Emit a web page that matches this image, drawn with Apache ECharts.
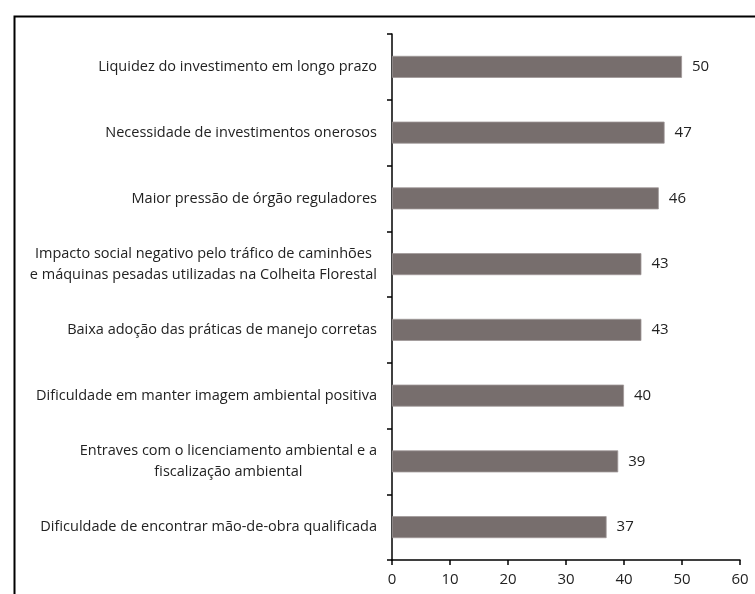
<!DOCTYPE html>
<html><head><meta charset="utf-8">
<script src="https://cdn.jsdelivr.net/npm/echarts@6/dist/echarts.min.js"></script>
<style>html,body{margin:0;padding:0;background:#fff}#c{width:755px;height:594px}</style>
</head><body><div id="c"></div>
<script>
var categories = [
  "Liquidez do investimento em longo prazo",
  "Necessidade de investimentos onerosos",
  "Maior pressão de órgão reguladores",
  "Impacto social negativo pelo tráfico de caminhões\ne máquinas pesadas utilizadas na Colheita Florestal",
  "Baixa adoção das práticas de manejo corretas",
  "Dificuldade em manter imagem ambiental positiva",
  "Entraves com o licenciamento ambiental e a\nfiscalização ambiental",
  "Dificuldade de encontrar mão-de-obra qualificada"
];
var values = [50, 47, 46, 43, 43, 40, 39, 37];
var xTicks = [0, 10, 20, 30, 40, 50, 60];

var font = 'Open Sans';
var chart = echarts.init(document.getElementById('c'));
chart.setOption({
  animation: false,
  backgroundColor: '#fff',
  graphic: [{
    type: 'rect', left: 12, top: 14, silent: true,
    shape: {x: 0, y: 0, width: 800, height: 700},
    style: {fill: 'none', stroke: '#000', lineWidth: 2}
  }],
  grid: {left: 392, right: 15, top: 34, bottom: 34, containLabel: false},
  xAxis: {
    type: 'value', min: xTicks[0], max: xTicks[xTicks.length - 1], interval: 10,
    splitLine: {show: false},
    axisLine: {show: true, lineStyle: {color: '#000', width: 1.5}},
    axisTick: {show: true, length: 5, lineStyle: {color: '#000', width: 1.5}},
    axisLabel: {margin: 12, fontFamily: font, fontSize: 15, color: '#222'}
  },
  yAxis: {
    type: 'category', data: categories, inverse: true,
    axisLine: {show: true, lineStyle: {color: '#000', width: 1.5}},
    axisTick: {show: true, length: 5, lineStyle: {color: '#000', width: 1.5}},
    axisLabel: {
      margin: 15, fontFamily: font, fontSize: 14.5, color: '#222', lineHeight: 21,
      formatter: function (v) { return v.split('\n').map(function (l) { return '{c|' + l + '}'; }).join('\n'); },
      rich: {c: {align: 'center', fontFamily: font, fontSize: 14.5, color: '#222', lineHeight: 21}}
    }
  },
  series: [{
    type: 'bar', data: values, barWidth: 22,
    itemStyle: {color: '#776e6d', borderColor: '#a09898', borderWidth: 0.8},
    label: {show: true, position: 'right', distance: 10, fontFamily: font, fontSize: 15, color: '#222'}
  }]
});
</script></body></html>
